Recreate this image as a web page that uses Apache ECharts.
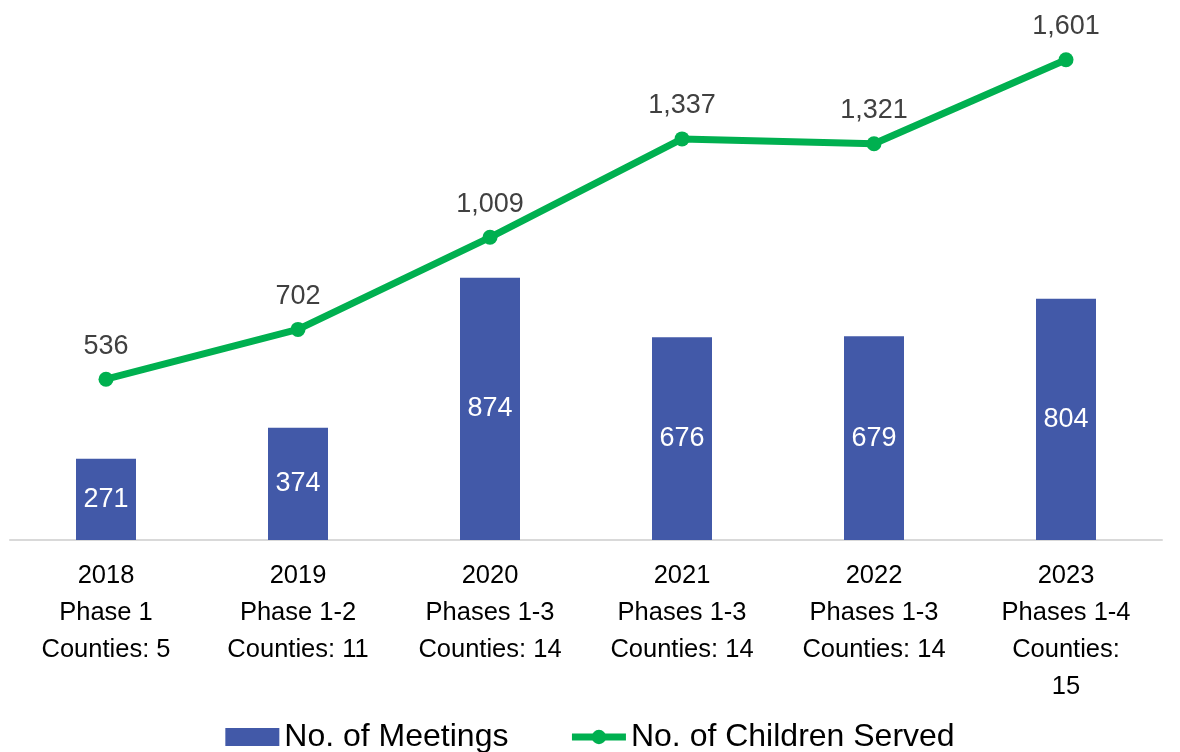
<!DOCTYPE html>
<html>
<head>
<meta charset="utf-8">
<script src="https://cdn.jsdelivr.net/npm/echarts@6/dist/echarts.min.js"></script>
<style>
  html, body { margin: 0; padding: 0; background: #fff; }
  #main { width: 1180px; height: 752px; }
</style>
</head>
<body>
<div id="main"></div>
<script>
// data
const years = ['2018', '2019', '2020', '2021', '2022', '2023'];
const phases = ['Phase 1', 'Phase 1-2', 'Phases 1-3', 'Phases 1-3', 'Phases 1-3', 'Phases 1-4'];
const counties = ['Counties: 5', 'Counties: 11', 'Counties: 14', 'Counties: 14', 'Counties: 14', 'Counties:\n15'];
const meetings = [271, 374, 874, 676, 679, 804];
const children = [536, 702, 1009, 1337, 1321, 1601];

const categories = years.map((y, i) => y + '\n' + phases[i] + '\n' + counties[i]);

const font = 'Liberation Sans, Arial, sans-serif';

const chart = echarts.init(document.getElementById('main'));

chart.setOption({
  animation: false,
  textStyle: { fontFamily: font },
  grid: {
    left: 10,
    right: 18,
    top: -5,
    bottom: 212
  },
  legend: {
    bottom: -6,
    left: 'center',
    itemWidth: 54,
    itemHeight: 18,
    itemGap: 60,
    textStyle: { fontSize: 32, color: '#000', fontFamily: font },
    lineStyle: { width: 7 },
    data: [
      { name: 'No. of Meetings', icon: 'rect' },
      { name: 'No. of Children Served' }
    ]
  },
  xAxis: {
    type: 'category',
    data: categories,
    axisLine: { lineStyle: { color: '#d9d9d9', width: 2 } },
    axisTick: { show: false },
    axisLabel: {
      interval: 0,
      margin: 17,
      fontSize: 25.5,
      lineHeight: 37,
      color: '#000',
      fontFamily: font
    }
  },
  yAxis: {
    type: 'value',
    min: 0,
    max: 1800,
    show: false,
    splitLine: { show: false }
  },
  series: [
    {
      name: 'No. of Meetings',
      type: 'bar',
      data: meetings,
      barWidth: 60,
      itemStyle: { color: '#4259A8' },
      label: {
        show: true,
        position: 'inside',
        color: '#fff',
        fontSize: 27,
        fontFamily: font
      }
    },
    {
      name: 'No. of Children Served',
      type: 'line',
      data: children,
      symbol: 'circle',
      symbolSize: 15,
      lineStyle: { color: '#00B050', width: 7 },
      itemStyle: { color: '#00B050' },
      label: {
        show: true,
        position: 'top',
        distance: 12,
        color: '#404040',
        fontSize: 27,
        fontFamily: font,
        formatter: p => p.value.toLocaleString('en-US')
      }
    }
  ]
});
</script>
</body>
</html>
